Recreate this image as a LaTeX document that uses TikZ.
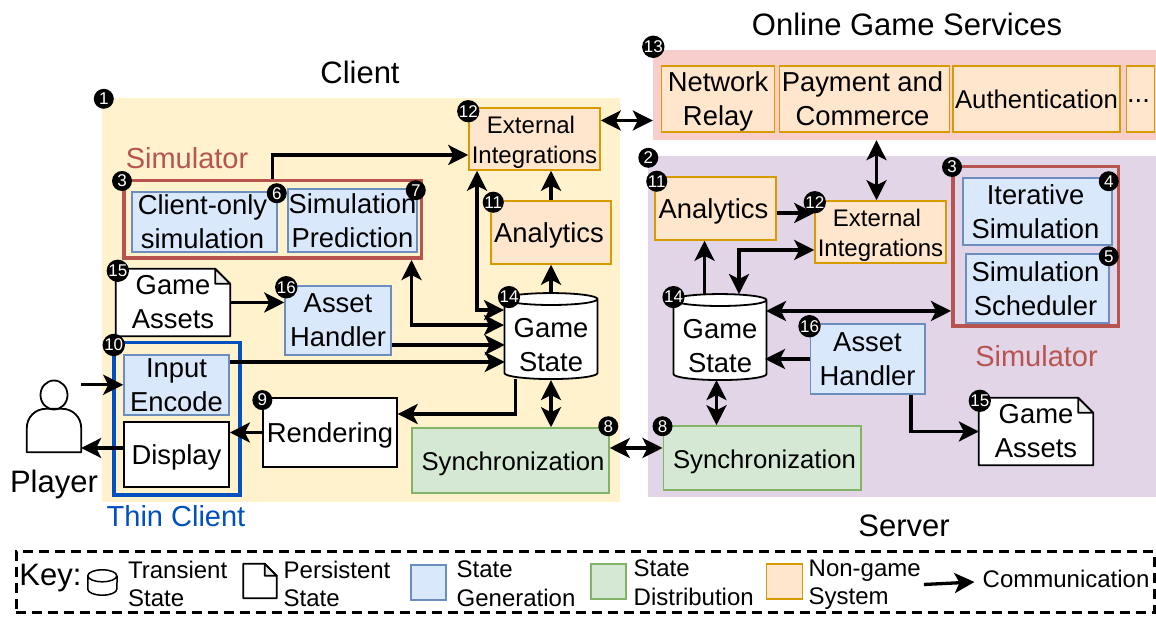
\documentclass[tikz,border=0pt]{standalone}
\usepackage{fontspec}
\setmainfont{Liberation Sans}
\usetikzlibrary{shapes.geometric, arrows.meta}
\definecolor{clientFill}{HTML}{FFF2CC}
\definecolor{serverFill}{HTML}{E1D5E7}
\definecolor{serviceFill}{HTML}{F8CECC}
\definecolor{genFill}{HTML}{DAE8FC}
\definecolor{genLine}{HTML}{6C8EBF}
\definecolor{distFill}{HTML}{D5E8D4}
\definecolor{distLine}{HTML}{82B366}
\definecolor{otherFill}{HTML}{FFE6CC}
\definecolor{otherLine}{HTML}{D79B00}
\definecolor{simLine}{HTML}{B85450}
\definecolor{thinLine}{HTML}{0050BF}
\newcommand{\boxfont}{\fontsize{27.4}{34}\selectfont}
\newcommand{\midfont}{\fontsize{24}{30.5}\selectfont}
\newcommand{\keyfont}{\fontsize{24}{28.5}\selectfont}
\newcommand{\bigfont}{\fontsize{31}{36}\selectfont}
\newcommand{\lowtext}{\rule{0pt}{24pt}}
\newcommand{\lowstore}{\rule{0pt}{30pt}}
\newcommand{\nudge}{\hspace*{4pt}}
\newcommand{\dogear}[2]{
\draw [pageline, fill=white] (#1.north west) -- ([xshift=-#2]#1.north east) -- ([yshift=-#2]#1.north east) -- (#1.south east) -- (#1.south west) -- cycle;
\draw [pageline, fill=gray!15] ([xshift=-#2]#1.north east) -- ([xshift=-#2,yshift=-#2]#1.north east) -- ([yshift=-#2]#1.north east) -- cycle;
}
\tikzset{boxsize/.style 2 args={minimum width=#1, minimum height=#2}}
\tikzstyle{area} = [rectangle, inner sep=0pt]
\tikzstyle{plain} = [inner sep=0pt, align=center, font=\boxfont]
\tikzstyle{title} = [inner sep=0pt, align=center, font=\bigfont]
\tikzstyle{keytext} = [inner sep=0pt, align=left, anchor=west, font=\keyfont]
\tikzstyle{oneline} = [text height=26.5pt, text depth=5.7pt]
\tikzstyle{pageline} = [line width=1.8pt, line join=round]
\tikzstyle{page} = [rectangle, inner sep=0pt]
\tikzstyle{whitebox} = [rectangle, inner sep=0pt, align=center, font=\boxfont, draw=black, line width=1.8pt, fill=white]
\tikzstyle{generation} = [rectangle, inner sep=0pt, align=center, font=\boxfont, draw=genLine, line width=1.5pt, fill=genFill]
\tikzstyle{distribution} = [rectangle, inner sep=0pt, align=center, font=\boxfont, draw=distLine, line width=1.5pt, fill=distFill]
\tikzstyle{nongame} = [rectangle, inner sep=0pt, align=center, font=\boxfont, draw=otherLine, line width=1.5pt, fill=otherFill]
\tikzstyle{simframe} = [rectangle, inner sep=0pt, draw=simLine, line width=3.5pt]
\tikzstyle{store} = [cylinder, shape border rotate=90, shape aspect=0.16, inner sep=0pt, align=center, font=\boxfont, draw=black, line width=1.8pt, fill=white, minimum width=93pt, minimum height=86pt]
\tikzstyle{badge} = [circle, fill=black, text=white, inner sep=0pt, minimum size=20pt, font=\fontsize{17}{17}\selectfont]
\tikzstyle{arrow} = [line width=3.3pt,->,>={Stealth[length=20pt,width=20pt,inset=5pt]}]
\tikzstyle{twoway} = [arrow,<->]
\begin{document}
\begin{tikzpicture}[node distance=50pt]

\useasboundingbox (0,0) rectangle (1156pt,617pt);

% zones
\node (clientArea) [area, boxsize={518pt}{404pt}, fill=clientFill] at (361pt,317pt) {};
\node (serverArea) [area, boxsize={508.5pt}{341pt}, fill=serverFill, right of=clientArea, xshift=490.75pt, yshift=-26.5pt] {};
\node (serviceArea) [area, boxsize={503pt}{90pt}, fill=serviceFill, above of=serverArea, xshift=2.75pt, yshift=181.5pt] {};

\node (clientLabel) [title, above of=clientArea, xshift=-1pt, yshift=178pt] {Client};
\node (onlineLabel) [title, above of=serviceArea, xshift=2.5pt, yshift=21pt] {Online Game Services};
\node (serverLabel) [title, below of=serverArea, xshift=2.25pt, yshift=-149.5pt] {Server};

% client side
\node (extClient) [nongame, font=\midfont, boxsize={131pt}{62pt}, right of=clientArea, xshift=123.5pt, yshift=161pt] {\lowtext External\hspace*{7pt}\\Integrations};
\node (analyticsClient) [nongame, oneline, boxsize={120pt}{63pt}, below of=extClient, xshift=16.5pt, yshift=-43.5pt] {Analytics\nudge};
\node (stateClient) [store, below of=analyticsClient, yshift=-57pt] {\lowstore Game\\State};
\node (syncClient) [distribution, oneline, font=\fontsize{25.7}{34}\selectfont, boxsize={197pt}{65pt}, below of=stateClient, xshift=-40.5pt, yshift=-71pt] {\hspace*{5pt}Synchronization};
\node (simClient) [simframe, boxsize={297.5pt}{77.5pt}, left of=analyticsClient, xshift=-228.5pt, yshift=13pt] {};
\node (simClientLabel) [title, text=simLine, font=\fontsize{29}{34}\selectfont, above of=simClient, xshift=-85.5pt, yshift=11.5pt] {Simulator};
\node (clientOnly) [generation, boxsize={145pt}{60pt}, left of=simClient, xshift=-18pt, yshift=-2.5pt] {Client-only\nudge\\simulation\nudge};
\node (simPrediction) [generation, boxsize={129pt}{63pt}, right of=clientOnly, xshift=98pt, yshift=1.5pt] {Simulation\\Prediction};
\node (gameAssetsClient) [page, boxsize={114pt}{67pt}, below of=clientOnly, xshift=-31.5pt, yshift=-30.5pt] {};
\dogear{gameAssetsClient}{15pt}
\node (gameAssetsClientText) [plain] at (gameAssetsClient) {Game\\Assets};
\node (assetClient) [generation, boxsize={106pt}{69pt}, right of=gameAssetsClient, xshift=115pt, yshift=-18pt] {Asset\\Handler};
\node (thinClient) [rectangle, inner sep=0pt, draw=thinLine, line width=3.5pt, boxsize={126pt}{152.5pt}, below of=gameAssetsClient, xshift=4pt, yshift=-66.5pt] {};
\node (thinLabel) [title, text=thinLine, font=\fontsize{29}{34}\selectfont, below of=thinClient, xshift=-1pt, yshift=-47pt] {Thin Client};
\node (inputEncode) [generation, boxsize={105pt}{60pt}, above of=thinClient, xshift=-0.5pt, yshift=-16pt] {Input\\Encode};
\node (displayBox) [whitebox, oneline, boxsize={105pt}{65pt}, below of=inputEncode, yshift=-19.5pt] {Display};
\node (renderingBox) [whitebox, oneline, boxsize={133.5pt}{69pt}, right of=displayBox, xshift=103.5pt, yshift=22pt] {Rendering};

% player
\node (playerBody) [area, boxsize={54pt}{43pt}, left of=displayBox, xshift=-72.5pt, yshift=24pt] {};
\draw [pageline] (playerBody.south west) [rounded corners=19pt] -- (playerBody.north west) -- (playerBody.north east) [sharp corners] -- (playerBody.south east) -- cycle;
\node (playerHead) [ellipse, draw=black, line width=1.8pt, inner sep=0pt, minimum width=27pt, minimum height=29pt, above of=playerBody, yshift=-14.5pt] {};
\node (playerLabel) [title, below of=playerBody, yshift=-4pt] {Player};

% server side
\node (relayBox) [nongame, boxsize={113pt}{66pt}, left of=serviceArea, xshift=-136.5pt, yshift=-4pt] {\lowtext Network\\Relay};
\node (paymentBox) [nongame, boxsize={170pt}{66pt}, right of=relayBox, xshift=96.5pt] {Payment and\nudge\\Commerce\nudge};
\node (authBox) [nongame, font=\fontsize{25.7}{34}\selectfont, boxsize={167pt}{66pt}, right of=paymentBox, xshift=122pt] {Authentication};
\node (moreBox) [nongame, text height=8pt, text depth=0pt, boxsize={28pt}{66pt}, right of=authBox, xshift=54pt] {...\nudge};
\node (analyticsServer) [nongame, oneline, boxsize={121pt}{63pt}, left of=serverArea, xshift=-136.25pt, yshift=118pt] {Analytics\nudge};
\node (extServer) [nongame, font=\midfont, boxsize={131pt}{62pt}, right of=analyticsServer, xshift=115pt, yshift=-23.5pt] {\lowtext External\hspace*{7pt}\\Integrations};
\node (stateServer) [store, below of=analyticsServer, xshift=4.5pt, yshift=-82pt] {\lowstore Game\\State};
\node (syncServer) [distribution, oneline, font=\fontsize{25.7}{34}\selectfont, boxsize={197.5pt}{64pt}, below of=stateServer, xshift=42pt, yshift=-67.5pt] {\hspace*{5pt}Synchronization};
\node (assetServer) [generation, boxsize={114.5pt}{70pt}, right of=stateServer, xshift=97.5pt, yshift=-18.5pt] {Asset\\Handler};
\node (simServer) [simframe, boxsize={165.5pt}{159.5pt}, right of=extServer, xshift=105pt, yshift=-14.5pt] {};
\node (simServerLabel) [title, text=simLine, font=\fontsize{29}{34}\selectfont, below of=simServer, xshift=1pt, yshift=-59.5pt] {Simulator};
\node (iterativeBox) [generation, boxsize={149pt}{67pt}, above of=simServer, xshift=2pt, yshift=-15pt] {Iterative\nudge\\Simulation\nudge};
\node (schedulerBox) [generation, boxsize={143pt}{69pt}, below of=iterativeBox, yshift=-27pt] {Simulation\nudge\\Scheduler\nudge};
\node (gameAssetsServer) [page, boxsize={114pt}{67pt}, right of=assetServer, xshift=118.5pt, yshift=-72.5pt] {};
\dogear{gameAssetsServer}{15pt}
\node (gameAssetsServerText) [plain] at (gameAssetsServer) {Game\\Assets};

% key
\node (keyBox) [area, boxsize={1138pt}{61pt}, draw=black, line width=3pt, dash pattern=on 10pt off 6pt, below of=clientArea, xshift=224pt, yshift=-232.5pt] {};
\node (keyLabel) [title] at ([shift={(36pt,4.5pt)}]keyBox.west) {Key:};
\node (keyStore) [area, boxsize={29pt}{25pt}] at ([xshift=88pt]keyBox.west) {};
\draw [pageline, line width=1.5pt] ([yshift=-6pt]keyStore.north west) arc [start angle=180, end angle=360, x radius=14.5pt, y radius=6pt] arc [start angle=0, end angle=180, x radius=14.5pt, y radius=6pt] -- ([yshift=6pt]keyStore.south west) arc [start angle=180, end angle=360, x radius=14.5pt, y radius=6pt] -- ([yshift=-6pt]keyStore.north east);
\node (keyTransient) [keytext] at ([shift={(113.4pt,-1.5pt)}]keyBox.west) {Transient\\State};
\node (keyPage) [page, boxsize={33pt}{34pt}] at ([shift={(245.5pt,1.5pt)}]keyBox.west) {};
\dogear{keyPage}{12pt}
\node (keyPersistent) [keytext] at ([shift={(269pt,-1.5pt)}]keyBox.west) {Persistent\\State};
\node (keyGeneration) [generation, boxsize={35pt}{35pt}] at ([xshift=414pt]keyBox.west) {};
\node (keyGenText) [keytext] at ([yshift=-1pt, xshift=442pt]keyBox.west) {State\\Generation};
\node (keyDistribution) [distribution, boxsize={35pt}{35pt}] at ([shift={(594pt,1pt)}]keyBox.west) {};
\node (keyDistText) [keytext] at ([xshift=619pt]keyBox.west) {State\\Distribution};
\node (keyOther) [nongame, boxsize={36pt}{35pt}] at ([shift={(770pt,1pt)}]keyBox.west) {};
\node (keyOtherText) [keytext] at ([shift={(794pt,-2pt)}]keyBox.west) {Non-game\\System};
\node (keyComm) [keytext] at ([shift={(968pt,3.5pt)}]keyBox.west) {Communication};

% connectors on the client side
\draw [arrow] (simClient.north) |- ([yshift=-16pt]extClient.west);
\draw [twoway] ([xshift=-57.5pt]extClient.south) |- ([shift={(-47pt,26pt)}]stateClient.shape center);
\draw [arrow] (analyticsClient.north) -- (analyticsClient.north |- extClient.south);
\draw [arrow] ([yshift=43pt]stateClient.shape center) -- (analyticsClient.south);
\draw [twoway] ([xshift=139pt]simClient.south) |- ([shift={(-47pt,11pt)}]stateClient.shape center);
\draw [arrow] (gameAssetsClient.east) -- (gameAssetsClient.east -| assetClient.west);
\draw [arrow] ([yshift=-24.5pt]assetClient.east) -- ++(113pt,0);
\draw [arrow] ([yshift=23pt]inputEncode.east) -- ++(275pt,0);
\draw [arrow] ([yshift=24pt]playerBody.north east) -- ++(42pt,0);
\draw [arrow] ([yshift=6.5pt]displayBox.west) -- ([yshift=-17.5pt]playerBody.east);
\draw [arrow] (renderingBox.west) -- (renderingBox.west -| displayBox.east);
\draw [arrow] ([shift={(-35.5pt,-43pt)}]stateClient.shape center) |- ([yshift=18.5pt]renderingBox.east);
\draw [twoway] ([yshift=-44pt]stateClient.shape center) -- (stateClient.shape center |- syncClient.north);
% connectors between the zones
\draw [twoway] ([yshift=12.5pt]syncClient.east) -- ([yshift=10pt]syncServer.west);
\draw [twoway] ([yshift=18.5pt]extClient.east) -- ([yshift=18.5pt]extClient.east -| serviceArea.west);
\draw [twoway] ([xshift=-4pt]extServer.north) -- ([xshift=-4pt]extServer.north |- serviceArea.south);
% connectors on the server side
\draw [arrow] ([yshift=-4.5pt]analyticsServer.east) -- ([yshift=19pt]extServer.west);
\draw [twoway] ([shift={(19pt,43pt)}]stateServer.shape center) |- ([yshift=-18pt]extServer.west);
\draw [arrow] ([shift={(-15.5pt,43pt)}]stateServer.shape center) -- ([xshift=-11pt]analyticsServer.south);
\draw [twoway] ([yshift=-64.5pt]simServer.west) -- ++(-185pt,0);
\draw [arrow] (assetServer.west) -- ++(-44.5pt,0);
\draw [twoway] ([shift={(-3.5pt,-43pt)}]stateServer.shape center) -- ([xshift=-45.5pt]syncServer.north);
\draw [arrow] ([xshift=43.5pt]assetServer.south) |- (gameAssetsServer.west);
\draw [arrow] ([xshift=3pt]keyOtherText.east) -- ([shift={(-8pt,-3pt)}]keyComm.west);

% numbered markers
\node (markOne) [badge] at ([shift={(2pt,-1pt)}]clientArea.north west) {1};
\node (markTwo) [badge] at ([shift={(1pt,-2pt)}]serverArea.north west) {2};
\node (markSimClient) [badge] at ([yshift=-2pt]simClient.north west) {3};
\node (markSimServer) [badge] at ([shift={(1pt,-2pt)}]simServer.north west) {3};
\node (markIterative) [badge] at ([shift={(-4pt,-4pt)}]iterativeBox.north east) {4};
\node (markScheduler) [badge] at ([shift={(-1pt,-3pt)}]schedulerBox.north east) {5};
\node (markClientOnly) [badge] at ([shift={(-1pt,-2pt)}]clientOnly.north east) {6};
\node (markPrediction) [badge] at ([shift={(-2pt,-2pt)}]simPrediction.north east) {7};
\node (markSyncClient) [badge] at ([shift={(-1.5pt,1pt)}]syncClient.north east) {8};
\node (markSyncServer) [badge] at ([yshift=-1pt]syncServer.north west) {8};
\node (markRendering) [badge] at ([yshift=-3pt]renderingBox.north west) {9};
\node (markThin) [badge] at ([shift={(1.5pt,-4pt)}]thinClient.north west) {10};
\node (markAnalyticsClient) [badge] at ([shift={(3pt,-2pt)}]analyticsClient.north west) {11};
\node (markAnalyticsServer) [badge] at ([shift={(2.5pt,-5pt)}]analyticsServer.north west) {11};
\node (markExtClient) [badge] at ([yshift=-4pt]extClient.north west) {12};
\node (markExtServer) [badge] at ([shift={(0.5pt,-2pt)}]extServer.north west) {12};
\node (markServices) [badge] at ([shift={(0.5pt,3pt)}]serviceArea.north west) {13};
\node (markStateClient) [badge] at ([shift={(-42pt,39pt)}]stateClient.shape center) {14};
\node (markStateServer) [badge] at ([shift={(-46.5pt,40pt)}]stateServer.shape center) {14};
\node (markAssetsClient) [badge] at ([shift={(2pt,-2pt)}]gameAssetsClient.north west) {15};
\node (markAssetsServer) [badge] at ([shift={(1pt,-3pt)}]gameAssetsServer.north west) {15};
\node (markHandlerClient) [badge] at ([shift={(2pt,-2pt)}]assetClient.north west) {16};
\node (markHandlerServer) [badge] at ([yshift=-3pt]assetServer.north west) {16};

\end{tikzpicture}
\end{document}
